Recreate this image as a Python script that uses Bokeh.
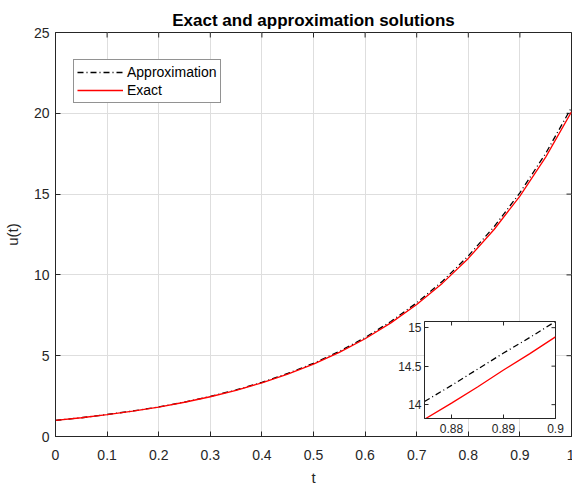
import math
from bokeh.plotting import figure
from bokeh.models import Range1d, Legend, LegendItem, FixedTicker
from bokeh.layouts import column
from bokeh.embed import file_html
from bokeh.resources import INLINE

# ---- data ----
t = [0.0, 0.05, 0.1, 0.15, 0.2, 0.25, 0.3, 0.35, 0.4, 0.45, 0.5,
     0.55, 0.6, 0.65, 0.7, 0.75, 0.8, 0.85, 0.9, 0.95, 1.0]
u_exact = [1.00, 1.16, 1.35, 1.57, 1.82, 2.12, 2.46, 2.86, 3.32, 3.86, 4.48,
           5.21, 6.05, 7.03, 8.17, 9.49, 11.02, 12.81, 14.88, 17.29, 20.09]
u_approx = [1.00, 1.16, 1.36, 1.58, 1.83, 2.13, 2.48, 2.88, 3.35, 3.90, 4.53,
            5.27, 6.12, 7.12, 8.27, 9.61, 11.17, 12.98, 15.08, 17.52, 20.36]

t_zoom = [0.8748, 0.88, 0.885, 0.89, 0.895, 0.9]
exact_zoom = [13.81, 14.02, 14.23, 14.45, 14.66, 14.88]
approx_zoom = [14.04, 14.25, 14.46, 14.67, 14.87, 15.08]

x_ticks = [0, 0.1, 0.2, 0.3, 0.4, 0.5, 0.6, 0.7, 0.8, 0.9, 1]
x_tick_labels = ["0", "0.1", "0.2", "0.3", "0.4", "0.5", "0.6", "0.7", "0.8", "0.9", "1"]
y_ticks = [0, 5, 10, 15, 20, 25]
y_tick_labels = ["0", "5", "10", "15", "20", "25"]
zx_ticks = [0.88, 0.89, 0.9]
zx_tick_labels = ["0.88", "0.89", "0.9"]
zy_ticks = [14, 14.5, 15]
zy_tick_labels = ["14", "14.5", "15"]

FONT = "Liberation Sans"
AXC = "#262626"


def style_axis(ax, ticks, labels, size, tick_len):
    ax.ticker = FixedTicker(ticks=ticks)
    ax.major_label_overrides = {tk: lb for tk, lb in zip(ticks, labels)}
    ax.major_tick_in = tick_len
    ax.major_tick_out = 0
    ax.minor_tick_line_color = None
    ax.axis_line_color = AXC
    ax.major_tick_line_color = AXC
    ax.major_label_text_font = FONT
    ax.major_label_text_font_size = size
    ax.major_label_text_color = AXC
    ax.axis_label_text_font = FONT
    ax.axis_label_text_font_size = "15px"
    ax.axis_label_text_font_style = "normal"
    ax.axis_label_text_color = AXC


def box_ticks(fig, xt, yt, xr, yr, size):
    # inward tick marks on the top and right edges (half of each dash is clipped by the frame)
    fig.scatter(xt, [yr.end] * len(xt), marker="dash", angle=math.pi / 2, size=size,
                line_color=AXC, line_width=1)
    fig.scatter([xr.end] * len(yt), yt, marker="dash", angle=0, size=size,
                line_color=AXC, line_width=1)


xr = Range1d(0, 1)
yr = Range1d(0, 25)
p = figure(frame_width=518, frame_height=408, output_backend="svg", toolbar_location=None,
           x_range=xr, y_range=yr,
           min_border_left=53, min_border_right=1, min_border_top=32, min_border_bottom=48)
p.title.text = "Exact and approximation solutions"
p.title.text_font = FONT
p.title.text_font_size = "17px"
p.title.text_font_style = "bold"
p.title.text_color = "#000000"
p.title.align = "center"
p.title.standoff = 6

p.outline_line_color = AXC
p.background_fill_color = "white"
p.border_fill_color = "white"

style_axis(p.xaxis[0], x_ticks, x_tick_labels, "14px", 5)
style_axis(p.yaxis[0], y_ticks, y_tick_labels, "14px", 5)
p.xaxis.axis_label = "t"
p.yaxis.axis_label = "u(t)"
p.xaxis.major_label_standoff = 13
p.yaxis.major_label_standoff = 6
p.xaxis.axis_label_standoff = 6
p.yaxis.axis_label_standoff = 10

p.xgrid.ticker = FixedTicker(ticks=x_ticks)
p.ygrid.ticker = FixedTicker(ticks=y_ticks)
p.grid.grid_line_color = "#dedede"
p.grid.grid_line_width = 1

box_ticks(p, x_ticks, y_ticks, xr, yr, 10)

r_approx = p.line(t, u_approx, line_color="black", line_width=1.3, line_dash="6 3 1 3")
r_exact = p.line(t, u_exact, line_color="#ff0000", line_width=1.3)

legend = Legend(items=[LegendItem(label="Approximation", renderers=[r_approx]),
                       LegendItem(label="Exact", renderers=[r_exact])],
                location=(18, 333))
legend.border_line_color = AXC
legend.border_line_width = 1
legend.background_fill_color = "white"
legend.background_fill_alpha = 1
legend.padding = 3
legend.spacing = 0
legend.margin = 0
legend.label_text_font = FONT
legend.label_text_font_size = "14px"
legend.label_text_color = "#000000"
legend.label_height = 18
legend.glyph_height = 18
legend.glyph_width = 46
legend.label_standoff = 4
p.add_layout(legend)

# ---- inset ----
zxr = Range1d(0.8748, 0.9)
zyr = Range1d(13.82, 15.08)
inset = figure(width=200, height=123, output_backend="svg", toolbar_location=None,
               x_range=zxr, y_range=zyr,
               min_border_left=34, min_border_right=14, min_border_top=4, min_border_bottom=22,
               styles={"position": "absolute", "left": "369px", "top": "317px"})
inset.outline_line_color = AXC
inset.background_fill_color = "white"
inset.border_fill_alpha = 0
inset.grid.grid_line_color = None
style_axis(inset.xaxis[0], zx_ticks, zx_tick_labels, "12px", 4)
style_axis(inset.yaxis[0], zy_ticks, zy_tick_labels, "12px", 4)
inset.xaxis.major_label_standoff = 5
inset.yaxis.major_label_standoff = 3
box_ticks(inset, zx_ticks, zy_ticks, zxr, zyr, 8)

inset.line(t_zoom, approx_zoom, line_color="black", line_width=1.3, line_dash="6 3 1 3")
inset.line(t_zoom, exact_zoom, line_color="#ff0000", line_width=1.3)

root = column(p, inset, width=572, height=488, styles={"overflow": "hidden"})
open("out.html", "w").write(file_html(root, INLINE))
